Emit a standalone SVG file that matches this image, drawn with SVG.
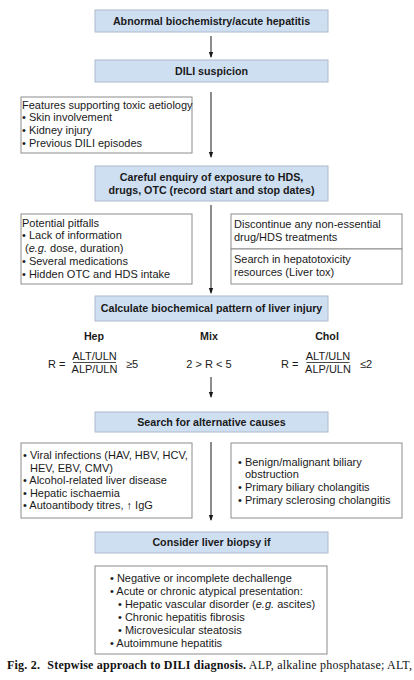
<svg xmlns="http://www.w3.org/2000/svg" width="414" height="680" viewBox="0 0 414 680">
<defs>
<marker id="ah" markerWidth="6" markerHeight="6" refX="5" refY="3" orient="auto" markerUnits="userSpaceOnUse">
<path d="M0,0.8 L6,3 L0,5.2 Z" fill="#1a1a1a"/>
</marker>
<style>
.step{fill:#cfdff2;stroke:#aebacb;stroke-width:1}
.note{fill:#ffffff;stroke:#8c8c8c;stroke-width:1}
text{font-family:"Liberation Sans",Arial,sans-serif;font-size:11px;fill:#1a1a1a}
.b{font-weight:bold;font-size:10.7px}
.c{text-anchor:middle}
.conn{stroke:#1a1a1a;stroke-width:1;fill:none;marker-end:url(#ah)}
.cap{font-family:"Liberation Serif","Times New Roman",serif;font-size:12px;fill:#111}
</style>
</defs>
<rect width="414" height="680" fill="#ffffff"/>

<g id="connectors">
<line class="conn" x1="211" y1="36" x2="211" y2="57"/>
<line class="conn" x1="211" y1="92" x2="211" y2="157"/>
<line class="conn" x1="211" y1="205" x2="211" y2="293"/>
<line class="conn" x1="211" y1="377" x2="211" y2="397"/>
<line class="conn" x1="211" y1="442" x2="211" y2="520"/>
</g>

<g id="n1">
<rect class="step" x="95" y="10" width="233" height="22"/>
<text class="b c" x="211.5" y="25">Abnormal biochemistry/acute hepatitis</text>
</g>

<g id="n2">
<rect class="step" x="95" y="60" width="233" height="22"/>
<text class="b c" x="211.5" y="75">DILI suspicion</text>
</g>

<g id="n_features">
<rect class="note" x="21" y="97" width="171" height="56"/>
<text x="22" y="109">Features supporting toxic aetiology</text>
<text x="22" y="121">• Skin involvement</text>
<text x="22" y="134">• Kidney injury</text>
<text x="22" y="147">• Previous DILI episodes</text>
</g>

<g id="n3">
<rect class="step" x="95" y="166" width="233" height="35"/>
<text class="b c" x="211.5" y="181">Careful enquiry of exposure to HDS,</text>
<text class="b c" x="211.5" y="194">drugs, OTC (record start and stop dates)</text>
</g>

<g id="n_pitfalls">
<rect class="note" x="21" y="214" width="171" height="70"/>
<text x="22" y="227">Potential pitfalls</text>
<text x="22" y="239">• Lack of information</text>
<text x="25" y="252">(<tspan font-style="italic">e.g.</tspan> dose, duration)</text>
<text x="22" y="265">• Several medications</text>
<text x="22" y="278">• Hidden OTC and HDS intake</text>
</g>

<g id="n_discontinue">
<rect class="note" x="231" y="214" width="171" height="35"/>
<text x="234" y="228">Discontinue any non-essential</text>
<text x="234" y="241">drug/HDS treatments</text>
</g>

<g id="n_search_tox">
<rect class="note" x="231" y="249" width="171" height="35"/>
<text x="234" y="263">Search in hepatotoxicity</text>
<text x="234" y="276">resources (Liver tox)</text>
</g>

<g id="n4">
<rect class="step" x="95" y="296" width="233" height="25"/>
<text class="b c" x="211.5" y="312">Calculate biochemical pattern of liver injury</text>
</g>

<g id="n_hep">
<text class="b c" x="94" y="340">Hep</text>
<text x="48" y="368">R =</text>
<text class="c" x="94.5" y="360">ALT/ULN</text>
<line x1="73" y1="362.5" x2="116" y2="362.5" stroke="#1a1a1a" stroke-width="0.8"/>
<text class="c" x="94.5" y="373">ALP/ULN</text>
<text x="126" y="368">≥5</text>
</g>

<g id="n_mix">
<text class="b c" x="209" y="340">Mix</text>
<text class="c" x="209" y="368">2 &gt; R &lt; 5</text>
</g>

<g id="n_chol">
<text class="b c" x="327" y="340">Chol</text>
<text x="281" y="368">R =</text>
<text class="c" x="328" y="360">ALT/ULN</text>
<line x1="306.5" y1="362.5" x2="349.5" y2="362.5" stroke="#1a1a1a" stroke-width="0.8"/>
<text class="c" x="328" y="373">ALP/ULN</text>
<text x="360" y="368">≤2</text>
</g>

<g id="n5">
<rect class="step" x="95" y="412" width="233" height="20"/>
<text class="b c" x="211.5" y="426">Search for alternative causes</text>
</g>

<g id="n_alt_left">
<rect class="note" x="21" y="443" width="171" height="75"/>
<text x="23" y="459">• Viral infections (HAV, HBV, HCV,</text>
<text x="30" y="472">HEV, EBV, CMV)</text>
<text x="23" y="484">• Alcohol-related liver disease</text>
<text x="23" y="497">• Hepatic ischaemia</text>
<text x="23" y="509">• Autoantibody titres, ↑ IgG</text>
</g>

<g id="n_alt_right">
<rect class="note" x="231" y="443" width="171" height="75"/>
<text x="238" y="466">• Benign/malignant biliary</text>
<text x="245" y="478">obstruction</text>
<text x="238" y="491">• Primary biliary cholangitis</text>
<text x="238" y="504">• Primary sclerosing cholangitis</text>
</g>

<g id="n6">
<rect class="step" x="95" y="532" width="233" height="21"/>
<text class="b c" x="211.5" y="546">Consider liver biopsy if</text>
</g>

<g id="n_biopsy">
<rect class="note" x="95" y="566" width="232" height="88"/>
<text x="110" y="582">• Negative or incomplete dechallenge</text>
<text x="110" y="595">• Acute or chronic atypical presentation:</text>
<text x="118" y="608">• Hepatic vascular disorder (<tspan font-style="italic">e.g.</tspan> ascites)</text>
<text x="118" y="621">• Chronic hepatitis fibrosis</text>
<text x="118" y="634">• Microvesicular steatosis</text>
<text x="110" y="647">• Autoimmune hepatitis</text>
</g>

<text class="cap" x="7" y="669" textLength="405" lengthAdjust="spacing"><tspan font-weight="bold">Fig. 2.</tspan><tspan font-weight="bold" dx="4"> Stepwise approach to DILI diagnosis.</tspan> ALP, alkaline phosphatase; ALT,</text>
</svg>
